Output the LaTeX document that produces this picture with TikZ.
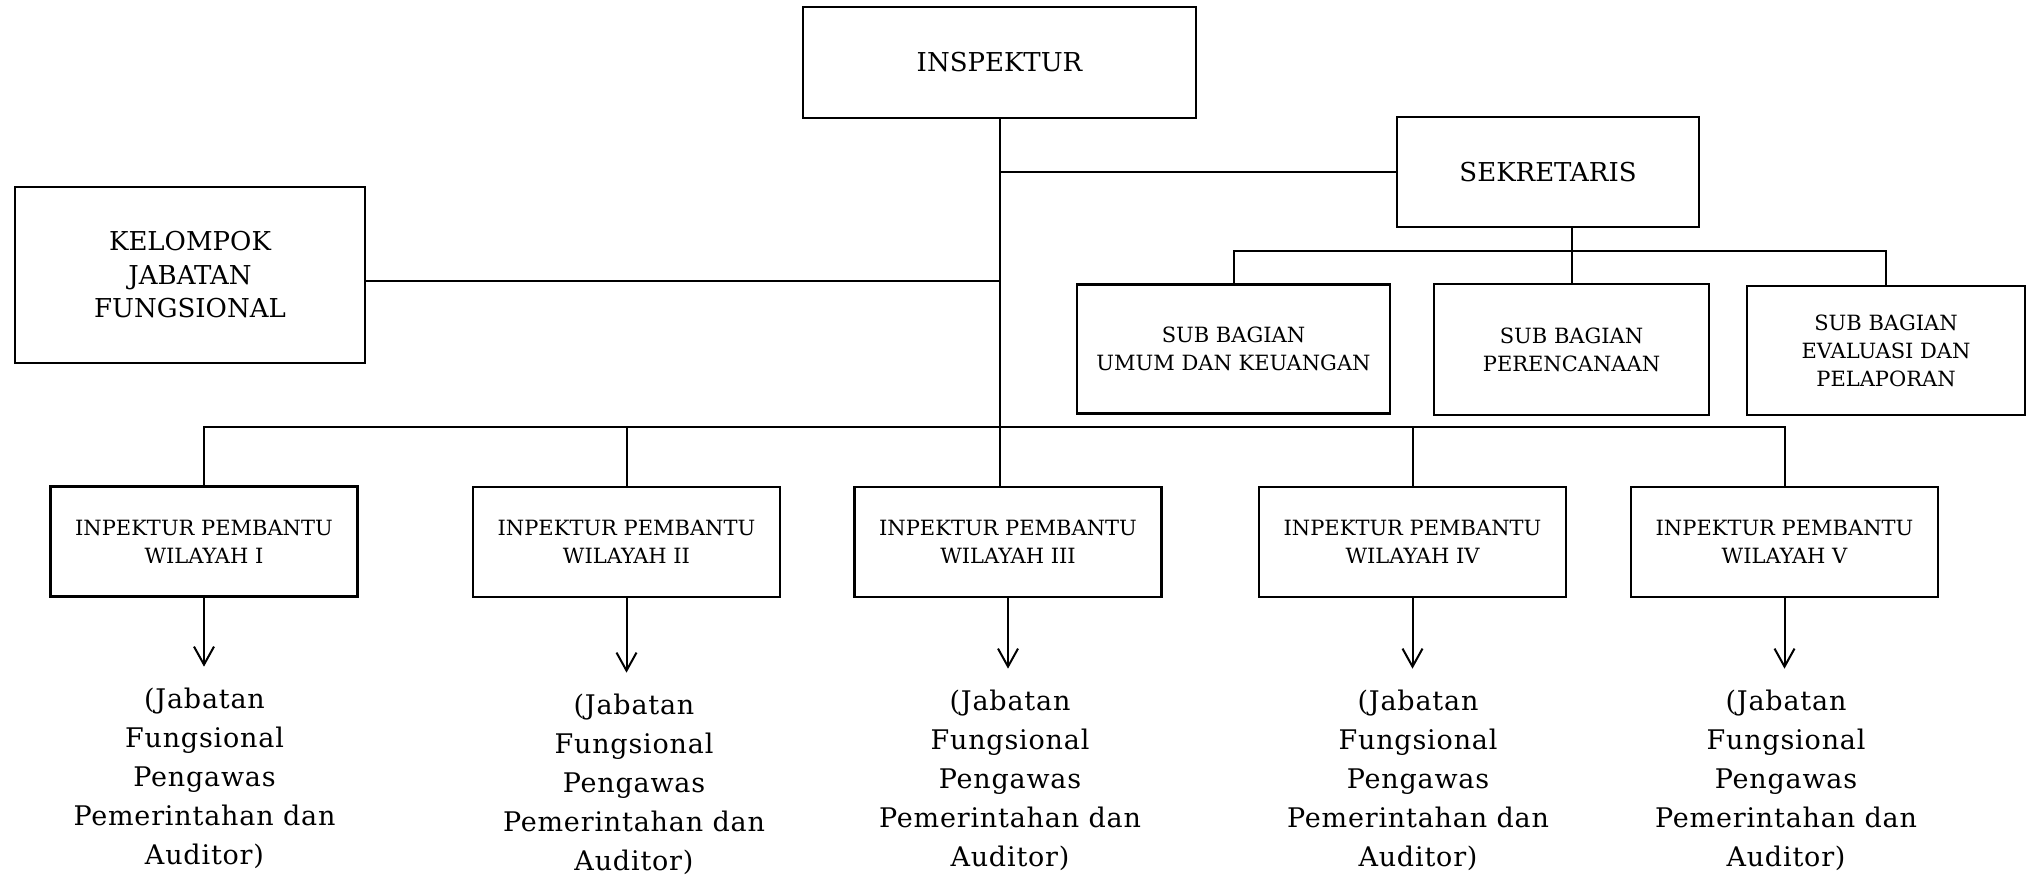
\documentclass[tikz,border=0pt]{standalone}
\usepackage{fontspec}
\setmainfont{DejaVu Serif}
\newfontfamily\jabfont[LetterSpace=3]{DejaVu Serif}
\usetikzlibrary{arrows.meta}
\begin{document}
\begin{tikzpicture}[x=0.5pt,y=-0.5pt,
  line width=1pt,
  bigbox/.style={draw, line width=1.1pt, align=center, inner sep=0pt, font=\fontsize{13}{16.75}\selectfont},
  smallbox/.style={draw, line width=1.1pt, align=center, inner sep=0pt, font=\fontsize{10.5}{14}\selectfont},
  ipbox/.style={smallbox, minimum width=153.5pt, minimum height=55pt},
  jab/.style={align=center, inner sep=0pt, font=\jabfont\fontsize{13.5}{19.5}\selectfont},
  conn/.style={line width=1pt},
  arr/.style={conn, -{Straight Barb[length=9pt,width=10pt]}, shorten >=10pt}
]
\useasboundingbox (0,0) rectangle (2027,875);

% top level
\node[bigbox, minimum width=196.5pt, minimum height=55.5pt] (insp) at (999.5,62.5) {INSPEKTUR};
\node[bigbox, minimum width=175pt, minimum height=88pt] (kel) at (190,275) {KELOMPOK\\JABATAN\\FUNGSIONAL};
\node[bigbox, minimum width=151pt, minimum height=55pt] (sek) at (1548,172) {SEKRETARIS};

% sub bagian
\node[smallbox, minimum width=156.5pt, minimum height=64.5pt] (sb1) at (1233.5,349) {SUB BAGIAN\\UMUM DAN KEUANGAN};
\node[smallbox, minimum width=137.5pt, minimum height=65.5pt] (sb2) at (1571.5,349.5) {SUB BAGIAN\\PERENCANAAN};
\node[smallbox, minimum width=139pt, minimum height=64.5pt] (sb3) at (1886,350.5) {SUB BAGIAN\\EVALUASI DAN\\PELAPORAN};

% inspektur pembantu
\node[ipbox] (ip1) at (204,541.5) {INPEKTUR PEMBANTU\\WILAYAH I};
\node[ipbox] (ip2) at (626.5,542) {INPEKTUR PEMBANTU\\WILAYAH II};
\node[ipbox] (ip3) at (1008,542) {INPEKTUR PEMBANTU\\WILAYAH III};
\node[ipbox] (ip4) at (1412.5,542) {INPEKTUR PEMBANTU\\WILAYAH IV};
\node[ipbox] (ip5) at (1784.5,542) {INPEKTUR PEMBANTU\\WILAYAH V};

% jabatan fungsional
\node[jab] (j1) at (204.5,778) {(Jabatan\\Fungsional\\Pengawas\\Pemerintahan dan\\Auditor)};
\node[jab] (j2) at (634,784) {(Jabatan\\Fungsional\\Pengawas\\Pemerintahan dan\\Auditor)};
\node[jab] (j3) at (1010,780) {(Jabatan\\Fungsional\\Pengawas\\Pemerintahan dan\\Auditor)};
\node[jab] (j4) at (1418,780) {(Jabatan\\Fungsional\\Pengawas\\Pemerintahan dan\\Auditor)};
\node[jab] (j5) at (1786,780) {(Jabatan\\Fungsional\\Pengawas\\Pemerintahan dan\\Auditor)};

\coordinate (bus) at (1000,427);
\coordinate (sbus) at (1500,251);

% connectors
\draw[conn] (insp.south) -- (insp.south |- ip3.north);
\draw[conn] ([yshift=-3pt]kel.east) -- ([yshift=-3pt]kel.east -| insp.south);
\draw[conn] (sek.west) -- (sek.west -| insp.south);
\draw[conn] (sb2.north) -- (sek.south -| sb2.north);
\draw[conn] (sb1.north) -- (sb1.north |- sbus) -- (sb3.north |- sbus) -- (sb3.north);
\draw[conn] (ip1.north) -- (ip1.north |- bus) -- (ip5.north |- bus) -- (ip5.north);
\draw[conn] (ip2.north) -- (ip2.north |- bus);
\draw[conn] (ip4.north) -- (ip4.north |- bus);

\foreach \i in {1,...,5}{
  \draw[arr] (ip\i.south) -- (ip\i.south |- j\i.north);
}
\end{tikzpicture}
\end{document}
